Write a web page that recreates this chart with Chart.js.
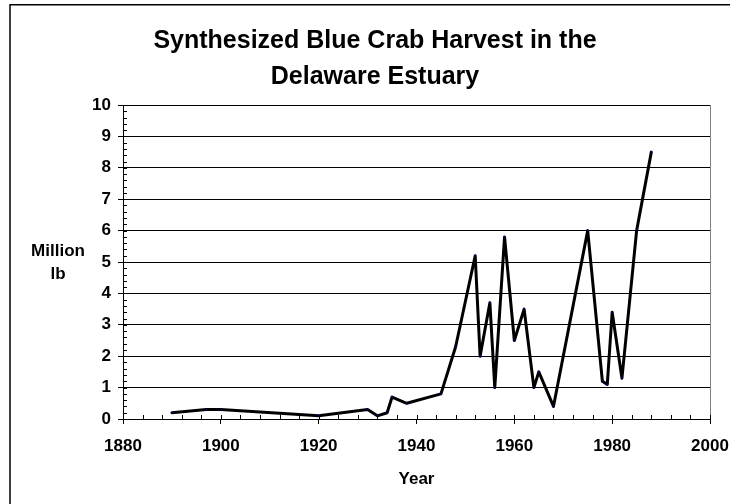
<!DOCTYPE html>
<html>
<head>
<meta charset="utf-8">
<script src="https://cdn.jsdelivr.net/npm/chart.js@4"></script>
<style>
html,body{margin:0;padding:0;background:#fff;}
canvas{display:block;}
</style>
</head>
<body>
<canvas id="c" width="730" height="504"></canvas>
<script>
const years = [1890,1897,1900,1920,1930,1932,1934,1935,1938,1945,1948,1952,1953,1955,1956,1958,1960,1962,1964,1965,1968,1975,1978,1979,1980,1982,1985,1988];
const harvest = [0.2,0.3,0.3,0.1,0.3,0.1,0.2,0.7,0.5,0.8,2.3,5.2,2.0,3.7,1.0,5.8,2.5,3.5,1.0,1.5,0.4,6.0,1.2,1.1,3.4,1.3,6.0,8.5];
const titleLines = ["Synthesized Blue Crab Harvest in the", "Delaware Estuary"];
const xTitle = "Year";
const yTitleLines = ["Million", "lb"];
const xMin = 1880, xMax = 2000, xStep = 20, xMinorStep = 4;
const yMin = 0, yMax = 10, yStep = 1, yMinorStep = 0.2;

const FONT = '"Liberation Sans", Arial, sans-serif';

const decor = {
  id: 'decor',
  beforeDraw(chart) {
    const ctx = chart.ctx;
    ctx.save();
    ctx.fillStyle = '#fff';
    ctx.fillRect(0, 0, chart.width, chart.height);
    ctx.strokeStyle = '#000';
    ctx.lineWidth = 1.5;
    ctx.beginPath();
    ctx.moveTo(10, chart.height + 5);
    ctx.lineTo(10, 4.8);
    ctx.lineTo(chart.width + 5, 4.8);
    ctx.stroke();
    ctx.restore();
  },
  beforeDatasetsDraw(chart) {
    const ctx = chart.ctx;
    const xs = chart.scales.x, ys = chart.scales.y;
    ctx.save();
    ctx.strokeStyle = '#000';
    ctx.lineWidth = 1;
    ctx.beginPath();
    for (let i = 0; xMin + i * xMinorStep <= xMax; i++) {
      const px = Math.round(xs.getPixelForValue(xMin + i * xMinorStep)) + 0.5;
      ctx.moveTo(px, ys.bottom);
      ctx.lineTo(px, ys.bottom - 4);
    }
    for (let i = 0; yMin + i * yMinorStep <= yMax + 1e-9; i++) {
      const py = Math.round(ys.getPixelForValue(yMin + i * yMinorStep)) + 0.5;
      ctx.moveTo(xs.left, py);
      ctx.lineTo(xs.left + 4, py);
    }
    ctx.stroke();
    ctx.restore();
  },
  afterDraw(chart) {
    const ctx = chart.ctx;
    const area = chart.chartArea;
    ctx.save();
    ctx.fillStyle = '#000';
    ctx.textAlign = 'center';
    ctx.textBaseline = 'alphabetic';
    ctx.font = 'bold 25px ' + FONT;
    ctx.fillText(titleLines[0], 375, 48);
    ctx.fillText(titleLines[1], 375, 84);
    ctx.font = 'bold 17px ' + FONT;
    ctx.textBaseline = 'middle';
    ctx.fillText(xTitle, (area.left + area.right) / 2, 479);
    ctx.fillText(yTitleLines[0], 58, 251);
    ctx.fillText(yTitleLines[1], 58, 274);
    ctx.restore();
  }
};

new Chart(document.getElementById('c'), {
  type: 'line',
  data: {
    datasets: [{
      data: years.map((y, i) => ({x: y, y: harvest[i]})),
      borderColor: '#000',
      borderWidth: 3,
      borderJoinStyle: 'round',
      borderCapStyle: 'round',
      tension: 0,
      pointRadius: 1,
      pointBorderWidth: 0,
      pointBackgroundColor: '#000080',
      fill: false
    }]
  },
  options: {
    responsive: false,
    devicePixelRatio: 1,
    animation: false,
    layout: { padding: { left: 0, top: 105, right: 20, bottom: 0 } },
    plugins: { legend: { display: false }, title: { display: false }, tooltip: { enabled: false } },
    scales: {
      x: {
        type: 'linear',
        min: xMin, max: xMax,
        afterFit(scale) { scale.height = 85; scale.paddingRight = 0; scale.paddingLeft = 0; },
        ticks: {
          stepSize: xStep,
          color: '#000',
          padding: 12,
          maxRotation: 0,
          callback: (v) => String(v),
          font: { family: FONT, size: 17, weight: 'bold' }
        },
        grid: {
          drawOnChartArea: true,
          color: (c) => (c.tick && c.tick.value === xMax) ? '#808080' : 'rgba(0,0,0,0)',
          tickColor: '#000',
          tickLength: 5,
          lineWidth: 1
        },
        border: { display: true, color: '#000', width: 1 }
      },
      y: {
        type: 'linear',
        min: yMin, max: yMax,
        afterFit(scale) { scale.width = 123; scale.paddingTop = 0; scale.paddingBottom = 0; },
        ticks: {
          stepSize: yStep,
          color: '#000',
          padding: 7,
          callback: (v) => String(v),
          font: { family: FONT, size: 17, weight: 'bold' }
        },
        grid: {
          color: '#000',
          tickColor: '#000',
          tickLength: 5,
          lineWidth: 1
        },
        border: { display: true, color: '#000', width: 1 }
      }
    }
  },
  plugins: [decor]
});
</script>
</body>
</html>
